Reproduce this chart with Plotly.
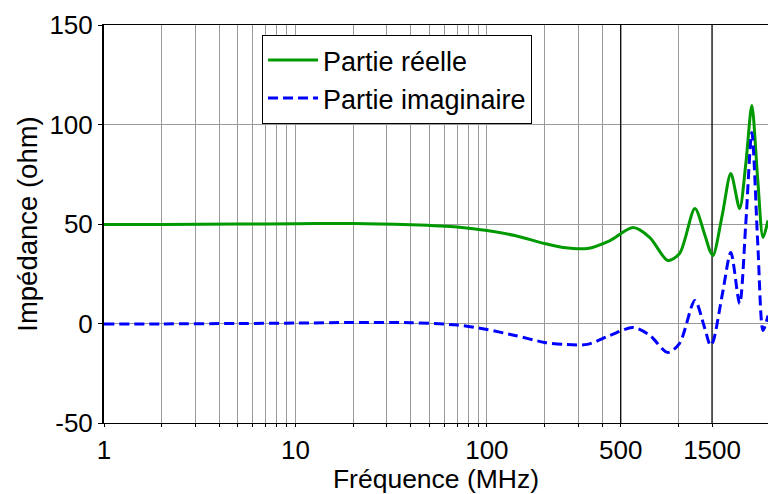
import plotly.graph_objects as go
import numpy as np

# Data
freq_mhz = [1, 2, 5, 10, 20, 40, 70, 100, 140, 200, 250, 335, 440, 580, 710, 880,
            1015, 1220, 1370, 1470, 1520, 1700, 1880, 2090, 2250, 2420, 2600, 2770, 2940]
partie_reelle = [49.7, 49.8, 50.0, 50.1, 50.3, 49.6, 48.5, 46.7, 44.2, 40.2, 38.2, 37.7,
                 41.7, 48.2, 43.2, 31.7, 35.2, 57.8, 45.0, 36.0, 34.2, 55.0, 75.4, 57.8,
                 80.0, 109.5, 72.0, 43.2, 51.8]
partie_imaginaire = [-0.3, -0.2, 0.0, 0.2, 0.5, 0.4, -0.8, -3.0, -6.0, -9.5, -10.5, -10.5,
                     -6.0, -2.0, -6.0, -14.6, -10.0, 11.6, -2.0, -11.0, -9.0, 15.0, 35.7,
                     10.0, 50.0, 96.0, 40.0, -3.5, 4.0]

x_tick_vals = [1, 10, 100, 500, 1500]
x_tick_text = ["1", "10", "100", "500", "1500"]
x_minor_grid = [2, 3, 4, 5, 6, 7, 8, 9, 10, 20, 30, 40, 50, 60, 70, 80, 90, 100,
                200, 300, 400, 1000]
x_black_lines = [500, 1500]
y_tick_vals = [-50, 0, 50, 100, 150]
y_tick_text = ["-50", "0", "50", "100", "150"]

FONT = "Liberation Sans, Arial, sans-serif"

fig = go.Figure()

for xv in x_black_lines:
    fig.add_trace(go.Scatter(x=[xv, xv], y=[-50, 150], mode="lines",
                             line=dict(color="black", width=1.3),
                             showlegend=False, hoverinfo="skip"))

fig.add_trace(go.Scatter(x=freq_mhz, y=partie_reelle, mode="lines",
                         name="Partie réelle",
                         line=dict(color="#009900", width=3, shape="spline", smoothing=0.8)))
fig.add_trace(go.Scatter(x=freq_mhz, y=partie_imaginaire, mode="lines",
                         name="Partie imaginaire",
                         line=dict(color="#0000FF", width=3, dash="10px,5px",
                                   shape="spline", smoothing=0.8)))

fig.update_layout(
    width=768, height=494,
    margin=dict(l=104, r=0, t=25, b=71, autoexpand=False),
    paper_bgcolor="white", plot_bgcolor="white",
    font=dict(family=FONT, size=26, color="black"),
    legend=dict(x=0.238, y=0.975, xanchor="left", yanchor="top",
                bgcolor="white", bordercolor="black", borderwidth=1,
                font=dict(size=27), tracegroupgap=0, itemwidth=50),
    xaxis=dict(type="log", range=[0, np.log10(2940)], automargin=False,
               tickvals=x_tick_vals, ticktext=x_tick_text,
               showgrid=False, ticks="outside", ticklen=3, tickcolor="black",
               ticklabelstandoff=1,
               showline=True, linecolor="black", linewidth=1.3, mirror=True,
               minor=dict(tickvals=x_minor_grid, showgrid=True, gridcolor="#9a9a9a",
                          gridwidth=1, ticks="outside", ticklen=3, tickcolor="black"),
               title=dict(text="Fréquence (MHz)", font=dict(size=26.5), standoff=3),
               tickfont=dict(size=26), zeroline=False),
    yaxis=dict(range=[-50, 150], tickvals=y_tick_vals, ticktext=y_tick_text,
               automargin=False,
               showgrid=True, gridcolor="#9a9a9a", gridwidth=1,
               ticks="outside", ticklen=4, tickcolor="black",
               showline=True, linecolor="black", linewidth=2, mirror=False,
               title=dict(text="Impédance (ohm)", font=dict(size=27.5), standoff=4),
               tickfont=dict(size=26), zeroline=False),
)

fig.write_html("out.html", config={"displayModeBar": False},
               post_script="document.body.style.margin='0px';document.body.style.overflow='hidden';")
